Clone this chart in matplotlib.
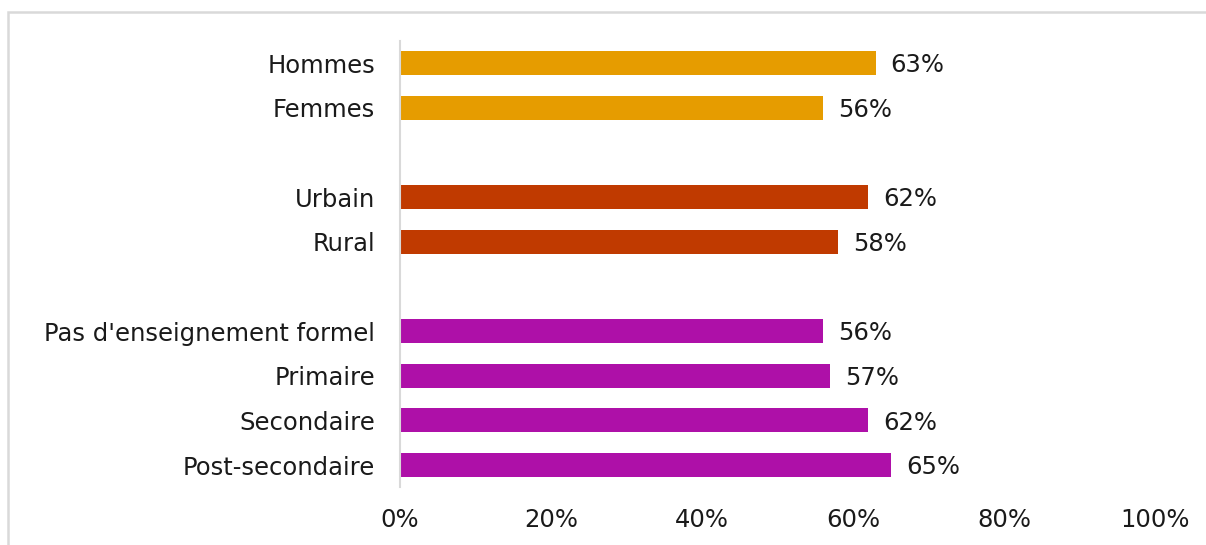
import matplotlib.pyplot as plt
from matplotlib.patches import Rectangle

# values
labels = ['Hommes', 'Femmes', '', 'Urbain', 'Rural', '',
          "Pas d'enseignement formel", 'Primaire', 'Secondaire', 'Post-secondaire']
values = [63, 56, None, 62, 58, None, 56, 57, 62, 65]
groups = ['sexe', 'sexe', None, 'milieu', 'milieu', None, 'educ', 'educ', 'educ', 'educ']
xticks = [0, 20, 40, 60, 80, 100]

colors = {'sexe': '#E69C00', 'milieu': '#C03A00', 'educ': '#AE10A8'}

plt.rcParams['font.family'] = ['DejaVu Sans']

fig = plt.figure(figsize=(12.06, 5.45), dpi=100)
ax = fig.add_axes([400 / 1206, 1 - 487.4 / 545, 755 / 1206, (487.4 - 40.7) / 545])

for i, (v, g) in enumerate(zip(values, groups)):
    if v is None:
        continue
    ax.barh(i, v, height=0.54, color=colors[g])
    ax.text(v + 2.0, i + 0.05, f'{v}%', va='center', ha='left', fontsize=17.5, color='#1a1a1a')

ax.set_xlim(0, 100)
ax.set_ylim(9.5, -0.5)
ax.set_yticks(range(len(labels)))
ax.set_yticklabels(labels, fontsize=17.5, color='#1a1a1a')
ax.set_xticks(xticks)
ax.set_xticklabels([f'{t}%' for t in xticks], fontsize=17.5, color='#1a1a1a')
ax.tick_params(axis='both', length=0)
ax.tick_params(axis='y', pad=18)
ax.tick_params(axis='x', pad=15)

for s in ['top', 'right', 'bottom']:
    ax.spines[s].set_visible(False)
ax.spines['left'].set_color('#d9d9d9')
ax.spines['left'].set_linewidth(1.5)

# light frame around the chart (open to the right and bottom)
fig.patches.append(Rectangle((8 / 1206, -0.1), 1.2, (545 - 12) / 545 + 0.1,
                             transform=fig.transFigure, fill=False,
                             edgecolor='#d9d9d9', linewidth=1.8))

plt.savefig('out.png')
